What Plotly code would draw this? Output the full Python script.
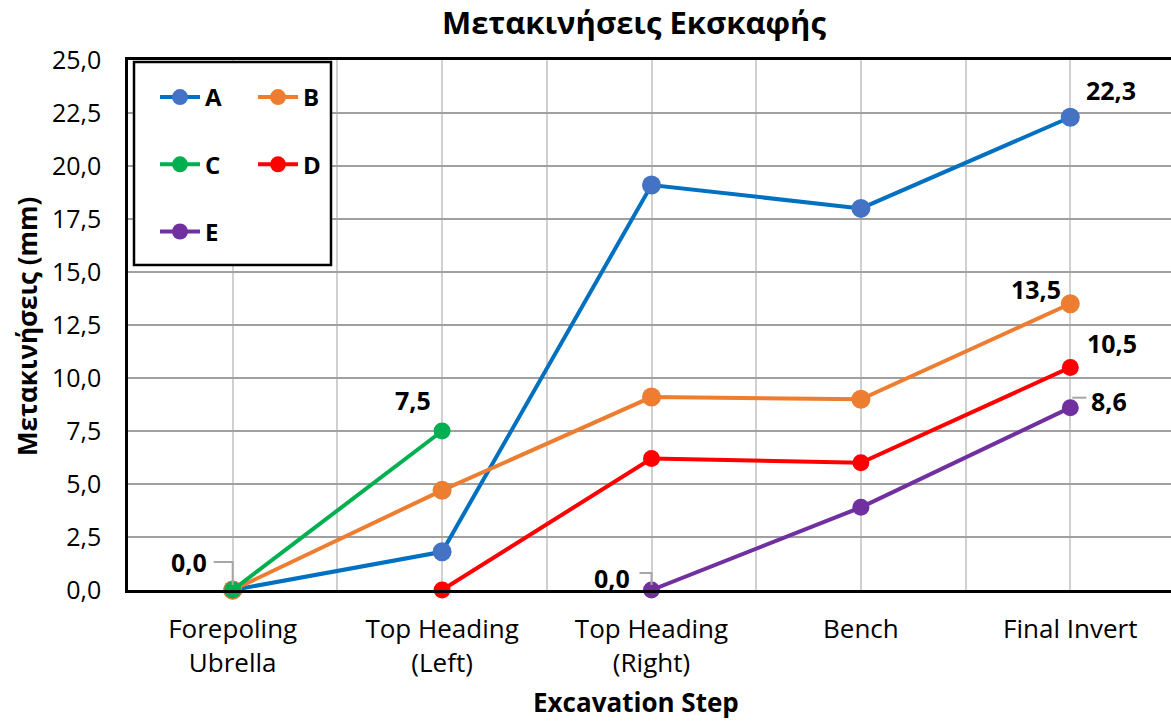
import plotly.graph_objects as go

# Excavation steps and displacement readings (mm) per monitoring point
categories = ["Forepoling<br>Ubrella", "Top Heading<br>(Left)", "Top Heading<br>(Right)", "Bench", "Final Invert"]
A = [0.0, 1.8, 19.1, 18.0, 22.3]
B = [0.0, 4.7, 9.1, 9.0, 13.5]
C = [0.0, 7.5, None, None, None]
D = [None, 0.0, 6.2, 6.0, 10.5]
E = [None, None, 0.0, 3.9, 8.6]
y_ticks = [0.0, 2.5, 5.0, 7.5, 10.0, 12.5, 15.0, 17.5, 20.0, 22.5, 25.0]

series = [
    ("A", A, "#0070C0", "#4472C4", 19, "legend"),
    ("B", B, "#ED7D31", "#ED7D31", 19, "legend2"),
    ("C", C, "#00B050", "#00B050", 17, "legend"),
    ("D", D, "#FF0000", "#FF0000", 17, "legend2"),
    ("E", E, "#7030A0", "#7030A0", 17, "legend"),
]

FONT = "Open Sans"
W, H = 1171, 722
L, R, T, B_M = 128, 0, 60, 132
pw, ph = W - L - R, H - T - B_M

xs = list(range(len(categories)))
fig = go.Figure()
for name, vals, lc, mc, ms, lg in series:
    fig.add_trace(go.Scatter(
        x=xs, y=vals, name=name, mode="lines+markers",
        line=dict(color=lc, width=4),
        marker=dict(color=mc, size=ms),
        cliponaxis=False, legend=lg, legendgroup=name,
    ))

# Data labels: (values, index, x shift px, y shift px, leader-line path in px or None)
labels = [
    (A, 0, -44, 28, "M -19,28 H 0 V 5"),
    (C, 1, -29, 31, None),
    (E, 2, -40, 12, "M -12,17 H 0 V 5"),
    (A, 4, 41, 27, None),
    (B, 4, -34, 15, None),
    (D, 4, 42, 24, None),
    (E, 4, 39, 7, "M 2,10 H 16"),
]
for vals, i, dx, dy, leader in labels:
    v = vals[i]
    fig.add_annotation(
        x=i, y=v, xref="x", yref="y", text=f"{v:.1f}".replace(".", ","),
        showarrow=False, xshift=dx, yshift=dy,
        font=dict(family=FONT, size=25, color="#000000", weight="bold"),
    )
    if leader:
        fig.add_shape(
            type="path", xref="x", yref="y", xsizemode="pixel", ysizemode="pixel",
            xanchor=i, yanchor=v, path=leader,
            line=dict(color="#A6A6A6", width=2), layer="above",
        )


def px_x(p):
    return (p - L) / pw


def px_y(p):
    return (H - B_M - p) / ph


# Legend frame
fig.add_shape(
    type="rect", xref="paper", yref="paper",
    x0=px_x(134), x1=px_x(331), y0=px_y(265), y1=px_y(62),
    line=dict(color="#000000", width=2.5), fillcolor="#FFFFFF", layer="above",
)

legend_common = dict(
    bgcolor="rgba(0,0,0,0)", borderwidth=0, orientation="v",
    font=dict(family=FONT, size=24, color="#000000", weight="bold"),
    tracegroupgap=33, itemwidth=40, yanchor="top", xanchor="left",
)

fig.update_layout(
    width=W, height=H, autosize=False,
    margin=dict(l=L, r=R, t=T, b=B_M, pad=0),
    paper_bgcolor="#FFFFFF", plot_bgcolor="#FFFFFF",
    separators=",.",
    showlegend=True,
    legend=dict(x=px_x(155), y=px_y(75), **legend_common),
    legend2=dict(x=px_x(253), y=px_y(75), **legend_common),
    title=dict(
        text="Μετακινήσεις Εκσκαφής", x=634 / W, xref="container", xanchor="center",
        y=1 - 23 / H, yref="container", yanchor="middle",
        font=dict(family=FONT, size=31, color="#000000", weight="bold"),
    ),
    xaxis=dict(
        range=[-0.5, -0.5 + pw / 209.4], tickvals=xs, ticktext=categories,
        showline=True, linecolor="#000000", linewidth=2.5, mirror=True,
        showgrid=True, gridcolor="#D0D0D0", gridwidth=1.5,
        minor=dict(tickvals=[0.5, 1.5, 2.5, 3.5], showgrid=True, gridcolor="#D0D0D0", gridwidth=1.5),
        zeroline=False, ticks="", ticklabelstandoff=14,
        tickfont=dict(family=FONT, size=26, color="#000000"),
        fixedrange=True,
    ),
    yaxis=dict(
        range=[0, 25], tickvals=y_ticks, tickformat=".1f",
        showline=True, linecolor="#000000", linewidth=2.5, mirror=False,
        showgrid=True, gridcolor="#A0A0A0", gridwidth=2,
        zeroline=False, ticks="", ticklabelstandoff=19,
        tickfont=dict(family=FONT, size=25, color="#000000"),
    ),
)

fig.add_annotation(
    text="Excavation Step", xref="paper", yref="paper",
    x=px_x(636), y=px_y(702), xanchor="center", yanchor="middle", showarrow=False,
    font=dict(family=FONT, size=26, color="#000000", weight="bold"),
)
fig.add_annotation(
    text="Μετακινήσεις (mm)", xref="paper", yref="paper", textangle=-90,
    x=px_x(27), y=px_y(327), xanchor="center", yanchor="middle", showarrow=False,
    font=dict(family=FONT, size=26, color="#000000", weight="bold"),
)

fig.write_html("out.html")
